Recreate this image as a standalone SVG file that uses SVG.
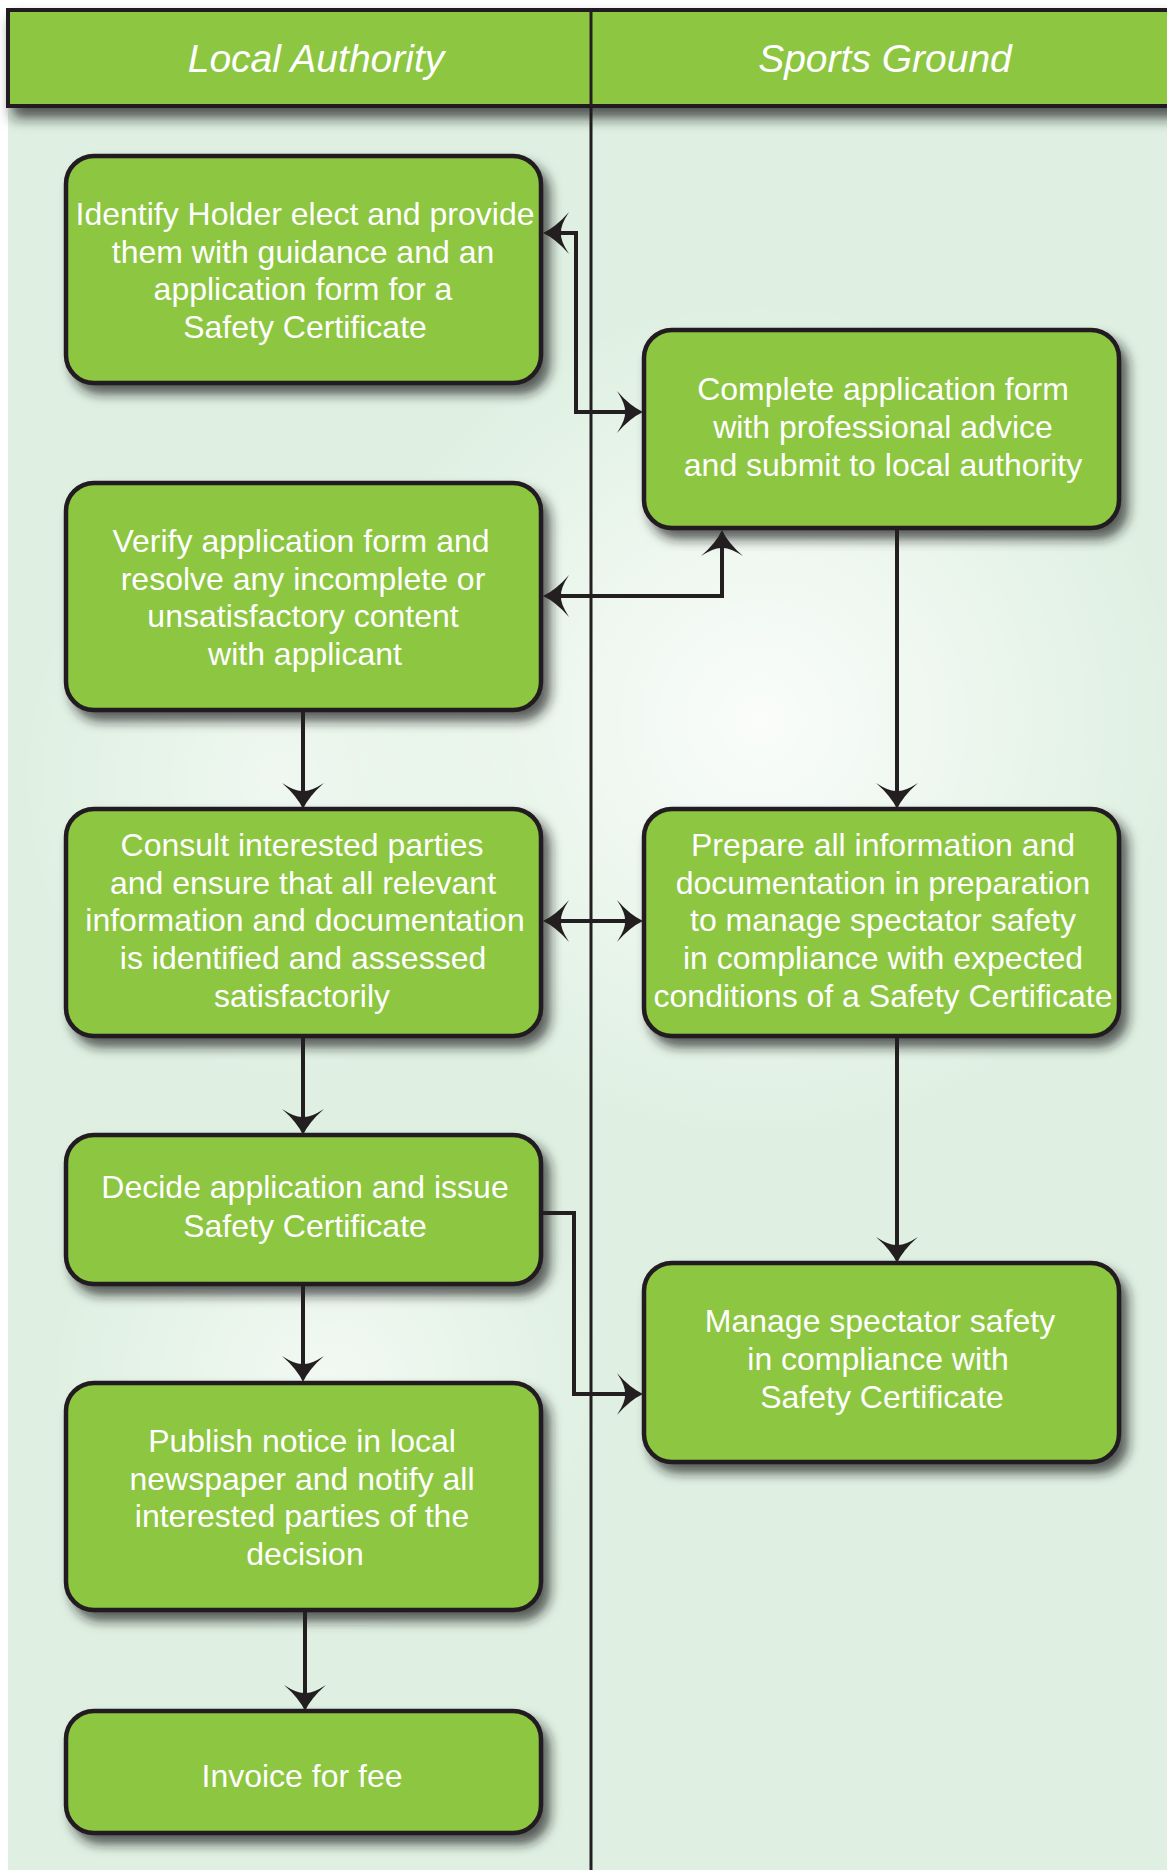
<svg xmlns="http://www.w3.org/2000/svg" width="1167" height="1870" viewBox="0 0 1167 1870">
<defs>
<style>
.node rect { fill:#8dc63f; stroke:#231f20; stroke-width:4.5; }
.node text, .hdr text { font-family:"Liberation Sans", Arial, sans-serif; fill:#ffffff; text-anchor:middle; }
.node text { font-size:32px; }
.hdr text { font-size:39px; font-style:italic; }
.hdr rect { fill:#8dc63f; stroke:#231f20; stroke-width:4; }
.conn path { fill:none; stroke:#231f20; stroke-width:4; }
</style>
<filter id="sh" x="-10%" y="-10%" width="130%" height="140%">
<feDropShadow dx="7" dy="9" stdDeviation="6" flood-color="#1a1a1a" flood-opacity="0.7"/>
</filter>
<filter id="hsh" x="-5%" y="-20%" width="110%" height="160%">
<feDropShadow dx="6" dy="10" stdDeviation="7" flood-color="#1a1a1a" flood-opacity="0.75"/>
</filter>
<marker id="ah" markerUnits="userSpaceOnUse" orient="auto-start-reverse" refX="-14" refY="0" markerWidth="40" markerHeight="50" viewBox="-30 -25 40 50" overflow="visible">
<path d="M0,0 Q-13,-6 -26,-21 Q-17,-7 -18,0 Q-17,7 -26,21 Q-13,6 0,0 Z" fill="#231f20"/>
</marker>
<radialGradient id="g1" cx="0.5" cy="0.5" r="0.5">
<stop offset="0" stop-color="#ffffff" stop-opacity="0.85"/>
<stop offset="1" stop-color="#ffffff" stop-opacity="0"/>
</radialGradient>
</defs>

<g id="background">
<rect x="0" y="0" width="1167" height="1870" fill="#ffffff"/>
<rect x="8" y="10" width="1159" height="1860" fill="#dff0e2"/>
<ellipse cx="760" cy="720" rx="420" ry="420" fill="url(#g1)"/>
<ellipse cx="280" cy="780" rx="260" ry="300" fill="url(#g1)" opacity="0.6"/>
<ellipse cx="330" cy="1380" rx="280" ry="260" fill="url(#g1)" opacity="0.7"/>
<line x1="591" y1="106" x2="591" y2="1870" stroke="#231f20" stroke-width="3"/>
</g>

<g id="header" class="hdr">
<g filter="url(#hsh)">
<rect x="8" y="10" width="1170" height="96"/>
</g>
<line x1="591" y1="10" x2="591" y2="106" stroke="#231f20" stroke-width="3"/>
<text x="316" y="72">Local Authority</text>
<text x="885" y="72">Sports Ground</text>
</g>

<g id="n1" class="node">
<rect x="66" y="156" width="475" height="227" rx="28" filter="url(#sh)"/>
<text><tspan x="305" y="225">Identify Holder elect and provide</tspan><tspan x="303" y="263">them with guidance and an</tspan><tspan x="303" y="300">application form for a</tspan><tspan x="305" y="338">Safety Certificate</tspan></text>
</g>

<g id="n2" class="node">
<rect x="644" y="330" width="475" height="198" rx="28" filter="url(#sh)"/>
<text><tspan x="883" y="400">Complete application form</tspan><tspan x="883" y="438">with professional advice</tspan><tspan x="883" y="476">and submit to local authority</tspan></text>
</g>

<g id="n3" class="node">
<rect x="66" y="483" width="475" height="227" rx="28" filter="url(#sh)"/>
<text><tspan x="301" y="552">Verify application form and</tspan><tspan x="303" y="590">resolve any incomplete or</tspan><tspan x="303" y="627">unsatisfactory content</tspan><tspan x="305" y="665">with applicant</tspan></text>
</g>

<g id="n4" class="node">
<rect x="66" y="809" width="475" height="227" rx="28" filter="url(#sh)"/>
<text><tspan x="302" y="856">Consult interested parties</tspan><tspan x="303" y="894">and ensure that all relevant</tspan><tspan x="305" y="931">information and documentation</tspan><tspan x="303" y="969">is identified and assessed</tspan><tspan x="302" y="1007">satisfactorily</tspan></text>
</g>

<g id="n5" class="node">
<rect x="644" y="809" width="475" height="227" rx="28" filter="url(#sh)"/>
<text><tspan x="883" y="856">Prepare all information and</tspan><tspan x="883" y="894">documentation in preparation</tspan><tspan x="883" y="931">to manage spectator safety</tspan><tspan x="883" y="969">in compliance with expected</tspan><tspan x="883" y="1007">conditions of a Safety Certificate</tspan></text>
</g>

<g id="n6" class="node">
<rect x="66" y="1135" width="475" height="149" rx="28" filter="url(#sh)"/>
<text><tspan x="305" y="1198">Decide application and issue</tspan><tspan x="305" y="1237">Safety Certificate</tspan></text>
</g>

<g id="n7" class="node">
<rect x="644" y="1263" width="475" height="199" rx="28" filter="url(#sh)"/>
<text><tspan x="880" y="1332">Manage spectator safety</tspan><tspan x="878" y="1370">in compliance with</tspan><tspan x="882" y="1408">Safety Certificate</tspan></text>
</g>

<g id="n8" class="node">
<rect x="66" y="1383" width="475" height="227" rx="28" filter="url(#sh)"/>
<text><tspan x="302" y="1452">Publish notice in local</tspan><tspan x="302" y="1490">newspaper and notify all</tspan><tspan x="302" y="1527">interested parties of the</tspan><tspan x="305" y="1565">decision</tspan></text>
</g>

<g id="n9" class="node">
<rect x="66" y="1711" width="475" height="122" rx="28" filter="url(#sh)"/>
<text><tspan x="302" y="1787">Invoice for fee</tspan></text>
</g>

<g id="connectors" class="conn">
<path d="M557,233 H576 V412 H629" marker-start="url(#ah)" marker-end="url(#ah)"/>
<path d="M557,596 H722 V544" marker-start="url(#ah)" marker-end="url(#ah)"/>
<path d="M897,530 V795" marker-end="url(#ah)"/>
<path d="M303,712 V795" marker-end="url(#ah)"/>
<path d="M557,921 H629" marker-start="url(#ah)" marker-end="url(#ah)"/>
<path d="M303,1038 V1121" marker-end="url(#ah)"/>
<path d="M897,1038 V1249" marker-end="url(#ah)"/>
<path d="M543,1213 H574 V1394 H629" marker-end="url(#ah)"/>
<path d="M303,1286 V1368" marker-end="url(#ah)"/>
<path d="M305,1612 V1697" marker-end="url(#ah)"/>
</g>
</svg>
